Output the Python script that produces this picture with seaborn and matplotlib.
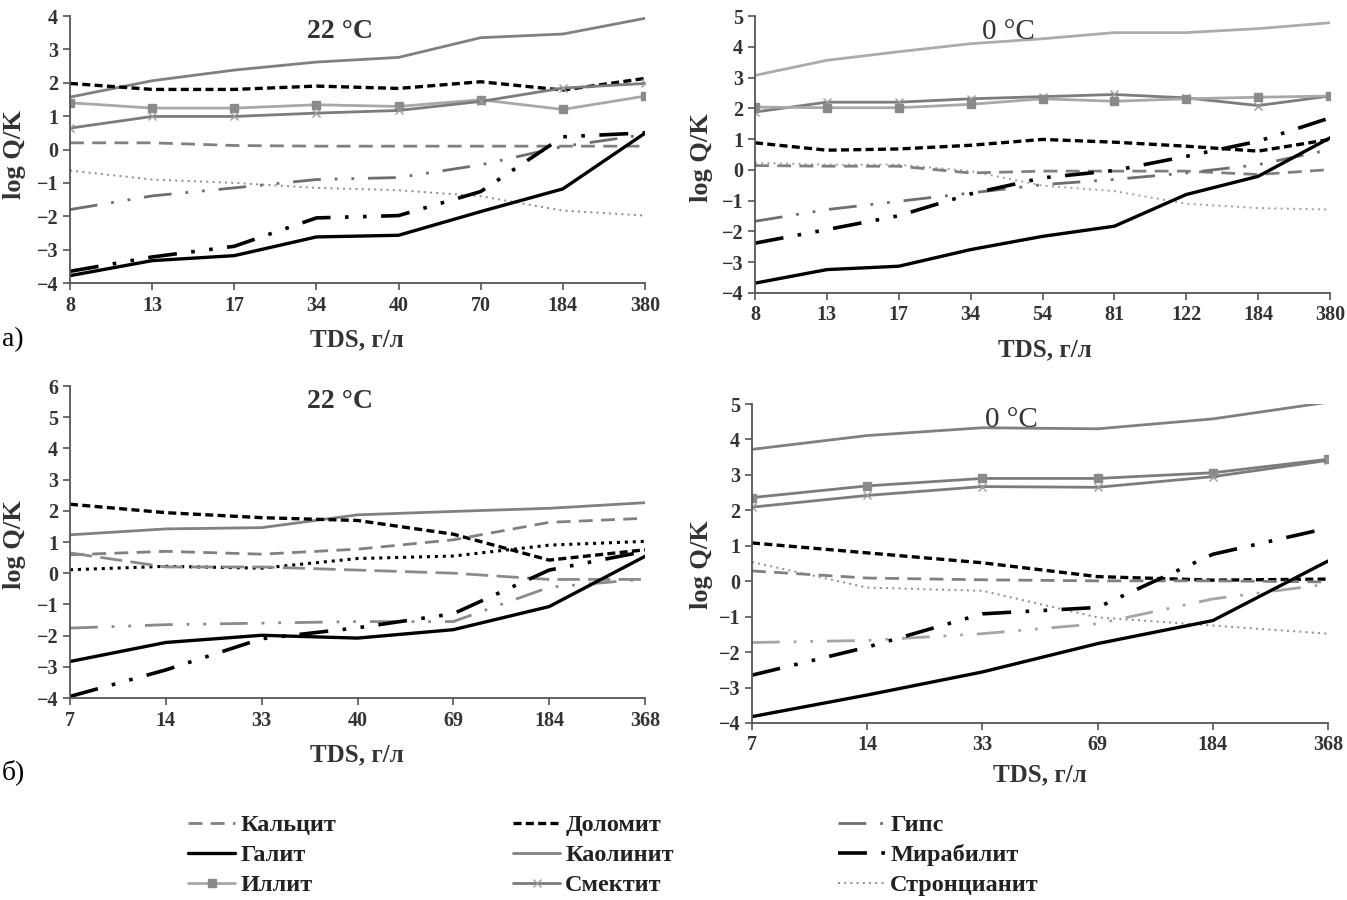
import numpy as np
import matplotlib
matplotlib.use("Agg")
import matplotlib.pyplot as plt
from matplotlib.lines import Line2D
import seaborn as sns

# ---------------- data ----------------
tds_a22 = ["8", "13", "17", "34", "40", "70", "184", "380"]
a22_kaolinite = [1.57, 2.06, 2.38, 2.62, 2.76, 3.35, 3.46, 3.93]
a22_dolomite = [1.98, 1.80, 1.80, 1.90, 1.83, 2.03, 1.78, 2.13]
a22_illite = [1.40, 1.24, 1.24, 1.34, 1.29, 1.49, 1.20, 1.60]
a22_smectite = [0.64, 0.99, 0.99, 1.09, 1.17, 1.44, 1.84, 1.98]
a22_calcite = [0.20, 0.20, 0.12, 0.10, 0.10, 0.10, 0.10, 0.10]
a22_strontianite = [-0.63, -0.90, -1.00, -1.15, -1.22, -1.40, -1.83, -1.98]
a22_gypsum = [-1.80, -1.39, -1.15, -0.90, -0.84, -0.46, 0.09, 0.45]
a22_mirabilite = [-3.65, -3.22, -2.90, -2.05, -1.98, -1.26, 0.38, 0.50]
a22_halite = [-3.78, -3.33, -3.18, -2.62, -2.57, -1.86, -1.18, 0.49]

tds_a0 = ["8", "13", "17", "34", "54", "81", "122", "184", "380"]
a0_kaolinite = [3.07, 3.56, 3.84, 4.10, 4.26, 4.46, 4.46, 4.59, 4.78]
a0_smectite = [1.88, 2.20, 2.20, 2.31, 2.38, 2.45, 2.34, 2.09, 2.40]
a0_illite = [2.04, 2.02, 2.02, 2.13, 2.31, 2.23, 2.31, 2.36, 2.40]
a0_dolomite = [0.88, 0.64, 0.68, 0.80, 0.99, 0.90, 0.77, 0.61, 0.99]
a0_strontianite = [0.23, 0.17, 0.17, -0.04, -0.51, -0.69, -1.10, -1.24, -1.29]
a0_calcite = [0.14, 0.12, 0.12, -0.10, -0.04, -0.04, -0.04, -0.15, 0.01]
a0_gypsum = [-1.67, -1.29, -1.02, -0.75, -0.48, -0.31, -0.10, 0.17, 0.66]
a0_mirabilite = [-2.38, -1.94, -1.49, -0.78, -0.26, -0.02, 0.44, 0.93, 1.69]
a0_halite = [-3.68, -3.24, -3.13, -2.59, -2.16, -1.83, -0.80, -0.21, 1.04]

tds_b22 = ["7", "14", "33", "40", "69", "184", "368"]
b22_kaolinite = [1.23, 1.42, 1.46, 1.87, 1.98, 2.08, 2.26]
b22_dolomite = [2.21, 1.94, 1.78, 1.69, 1.25, 0.42, 0.75]
b22_calcite = [0.59, 0.70, 0.61, 0.77, 1.07, 1.63, 1.76]
b22_strontianite = [0.11, 0.22, 0.16, 0.47, 0.55, 0.90, 1.02]
b22_gray_longdash = [0.65, 0.20, 0.20, 0.10, 0.00, -0.20, -0.20]
b22_gypsum = [-1.76, -1.65, -1.60, -1.55, -1.55, -0.45, -0.19]
b22_mirabilite = [-3.95, -3.10, -2.10, -1.75, -1.30, 0.10, 0.70]
b22_halite = [-2.83, -2.22, -1.99, -2.08, -1.81, -1.07, 0.54]

tds_b0 = ["7", "14", "33", "69", "184", "368"]
b0_kaolinite = [3.72, 4.11, 4.33, 4.30, 4.58, 5.05]
b0_illite = [2.36, 2.69, 2.90, 2.90, 3.06, 3.44]
b0_smectite = [2.09, 2.42, 2.67, 2.65, 2.95, 3.41]
b0_dolomite = [1.08, 0.80, 0.52, 0.13, 0.03, 0.06]
b0_calcite = [0.29, 0.09, 0.04, 0.01, 0.01, -0.02]
b0_strontianite = [0.54, -0.18, -0.27, -1.02, -1.25, -1.48]
b0_gypsum = [-1.73, -1.67, -1.48, -1.20, -0.50, -0.08]
b0_mirabilite = [-2.65, -1.86, -0.92, -0.74, 0.76, 1.50]
b0_halite = [-3.82, -3.21, -2.56, -1.76, -1.11, 0.57]

legend_order = ["Кальцит", "Галит", "Иллит",
                "Доломит", "Каолинит", "Смектит",
                "Гипс", "Мирабилит", "Стронцианит"]

# ---------------- styles ----------------
styles = {
    "Кальцит": dict(color="#808080", linewidth=2.0, linestyle=(0, (5, 3))),
    "Доломит": dict(color="black", linewidth=2.4, linestyle=(0, (2.4, 1.3))),
    "Гипс": dict(color="#6e6e6e", linewidth=2.0, linestyle=(0, (10, 5, 1, 5, 1, 5))),
    "Галит": dict(color="black", linewidth=2.4, linestyle="-"),
    "Каолинит": dict(color="#808080", linewidth=2.0, linestyle="-"),
    "Мирабилит": dict(color="black", linewidth=2.6, linestyle=(0, (8, 4, 1, 4, 1, 4))),
    "Иллит": dict(color="#a8a8a8", linewidth=2.0, linestyle="-", marker="s", markersize=6,
                  markerfacecolor="#8a8a8a", markeredgecolor="#8a8a8a", markeredgewidth=1),
    "Смектит": dict(color="#7c7c7c", linewidth=2.0, linestyle="-", marker="x", markersize=6,
                    markerfacecolor="#7c7c7c", markeredgecolor="#9a9a9a", markeredgewidth=1.0),
    "Стронцианит": dict(color="#8c8c8c", linewidth=1.4, linestyle=(0, (1, 2.2))),
    "extra": dict(color="#8a8a8a", linewidth=2.0, linestyle=(0, (8, 3))),
}

panels = [
    dict(rect=(70, 16, 645, 283), ylim=(-4, 4), tds=tds_a22, title="22 °C", tx=0.47, bold_title=True,
         series=[("Каолинит", a22_kaolinite, {}), ("Доломит", a22_dolomite, {}),
                 ("Иллит", a22_illite, {}), ("Смектит", a22_smectite, {}),
                 ("Кальцит", a22_calcite, {}), ("Стронцианит", a22_strontianite, {}),
                 ("Гипс", a22_gypsum, {}), ("Мирабилит", a22_mirabilite, {}),
                 ("Галит", a22_halite, {})],
         xlab=(357, 340), ylab=(15, 155)),
    dict(rect=(755, 16, 1330, 293), ylim=(-4, 5), tds=tds_a0, title="0 °C", tx=0.44, bold_title=False,
         series=[("Каолинит", a0_kaolinite, {"color": "#ababab"}), ("Смектит", a0_smectite, {}),
                 ("Иллит", a0_illite, {}), ("Доломит", a0_dolomite, {}),
                 ("Стронцианит", a0_strontianite, {"color": "#a0a0a0"}), ("Кальцит", a0_calcite, {}),
                 ("Гипс", a0_gypsum, {}), ("Мирабилит", a0_mirabilite, {}),
                 ("Галит", a0_halite, {})],
         xlab=(1045, 350), ylab=(702, 158)),
    dict(rect=(70, 386, 645, 698), ylim=(-4, 6), tds=tds_b22, title="22 °C", tx=0.47, bold_title=True,
         series=[("Каолинит", b22_kaolinite, {}), ("Доломит", b22_dolomite, {}),
                 ("Кальцит", b22_calcite, {}),
                 ("Стронцианит", b22_strontianite, {"color": "black", "linewidth": 2.2,
                                                     "linestyle": (0, (1, 1.6))}),
                 ("extra", b22_gray_longdash, {}), ("Гипс", b22_gypsum, {"color": "#8a8a8a"}),
                 ("Мирабилит", b22_mirabilite, {}), ("Галит", b22_halite, {})],
         xlab=(357, 755), ylab=(15, 545)),
    dict(rect=(752, 404, 1328, 723), ylim=(-4, 5), tds=tds_b0, title="0 °C", tx=0.45, bold_title=False,
         series=[("Каолинит", b0_kaolinite, {}), ("Иллит", b0_illite, {"color": "#7c7c7c"}),
                 ("Смектит", b0_smectite, {}), ("Доломит", b0_dolomite, {}),
                 ("Кальцит", b0_calcite, {}), ("Стронцианит", b0_strontianite, {}),
                 ("Гипс", b0_gypsum, {"color": "#a5a5a5"}), ("Мирабилит", b0_mirabilite, {}),
                 ("Галит", b0_halite, {})],
         xlab=(1040, 775), ylab=(702, 565)),
]

# ---------------- drawing ----------------
sns.set_style("ticks")
plt.rcParams["font.family"] = ["Liberation Serif", "DejaVu Serif"]

W, H = 1347, 900
fig = plt.figure(figsize=(W / 100, H / 100), dpi=100)

for p in panels:
    l, t, r, b = p["rect"]
    ax = fig.add_axes([l / W, 1 - b / H, (r - l) / W, (b - t) / H])
    xs = np.arange(len(p["tds"]))
    for name, vals, override in p["series"]:
        kw = dict(styles[name])
        kw.update(override)
        sns.lineplot(x=xs, y=vals, ax=ax, legend=False, errorbar=None, **kw)
    ax.set_xlim(0, len(xs) - 1)
    ax.set_ylim(*p["ylim"])
    ax.set_xticks(xs)
    ax.set_xticklabels(p["tds"])
    ax.set_yticks(np.arange(p["ylim"][0], p["ylim"][1] + 1))
    ax.set_xlabel("")
    ax.set_ylabel("")
    sns.despine(ax=ax)
    for sp in ("left", "bottom"):
        ax.spines[sp].set_color("#555555")
        ax.spines[sp].set_linewidth(1.3)
    ax.tick_params(axis="both", colors="#555555", labelcolor="#333333", length=5, width=1.2,
                   labelsize=14.5)
    for lab in ax.get_xticklabels() + ax.get_yticklabels():
        lab.set_fontweight("bold")
    ax.tick_params(axis="x", pad=4)
    ax.text(p["tx"], 0.99, p["title"], transform=ax.transAxes, ha="center", va="top",
            fontsize=20 if p["bold_title"] else 21,
            fontweight="bold" if p["bold_title"] else "normal", color="#333333")
    fig.text(p["xlab"][0] / W, 1 - p["xlab"][1] / H, "TDS, г/л", ha="center", va="center",
             fontsize=18, fontweight="bold", color="#333333")
    fig.text(p["ylab"][0] / W, 1 - p["ylab"][1] / H, "log Q/K", ha="center", va="center",
             rotation=90, fontsize=19, fontweight="bold", color="#333333")

fig.text(2 / W, 1 - 340 / H, "а)", ha="left", va="center", fontsize=20, color="black")
fig.text(2 / W, 1 - 772 / H, "б)", ha="left", va="center", fontsize=20, color="black")

# legend in three columns
col_x = [188, 513, 838]
for c in range(3):
    names = legend_order[c * 3:(c + 1) * 3]
    handles = []
    for n in names:
        kw = {k: v for k, v in styles[n].items()}
        handles.append(Line2D([], [], **kw))
    fig.legend(handles, names, loc="upper left",
               bbox_to_anchor=(col_x[c] / W, 1 - 814 / H), frameon=False,
               borderpad=0, borderaxespad=0, handlelength=1.95, handletextpad=0.2,
               labelspacing=0.33, prop=dict(family=["Liberation Serif"], weight="bold", size=17.5),
               labelcolor="#222222")

fig.savefig("out.png", dpi=100, facecolor="white")
